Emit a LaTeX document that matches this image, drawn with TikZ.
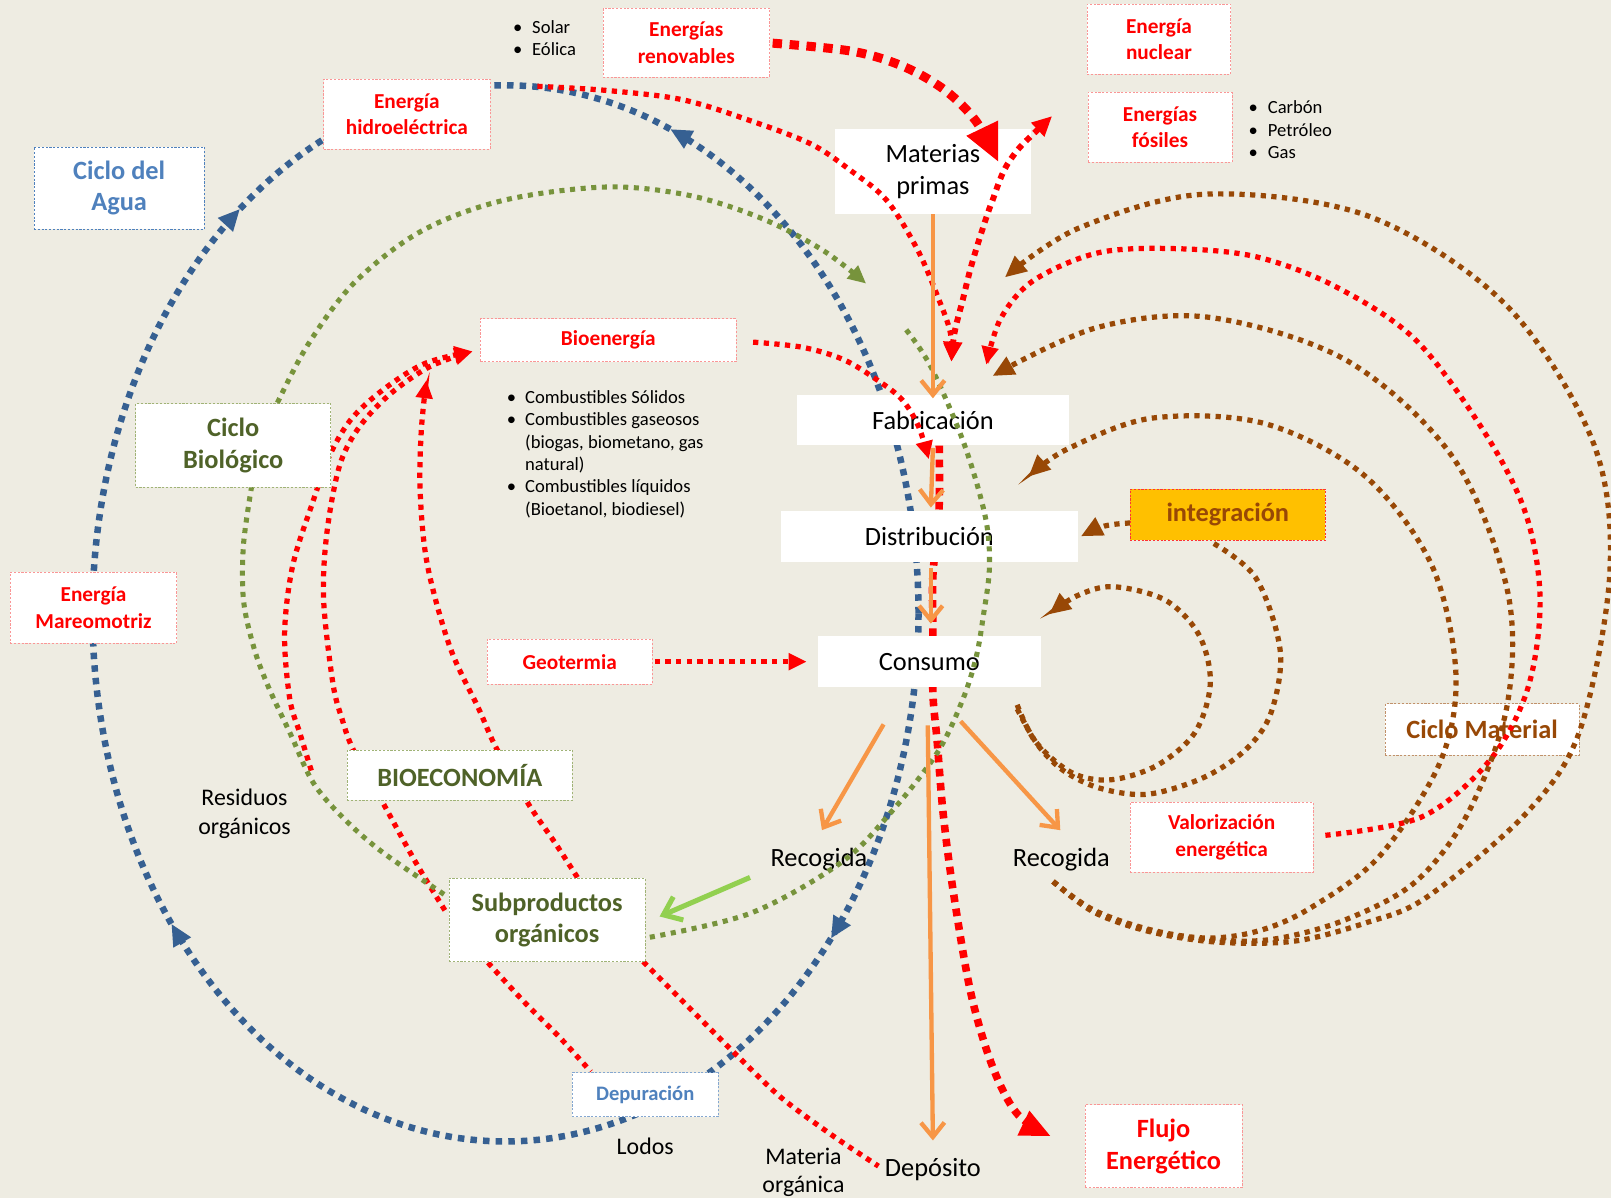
\documentclass[tikz,border=0pt]{standalone}
\usepackage{fontspec}
\setmainfont{Carlito}
\usetikzlibrary{arrows.meta}
\definecolor{paper}{RGB}{238,236,226}
\definecolor{redc}{RGB}{255,0,0}
\definecolor{pinkline}{RGB}{250,150,150}
\definecolor{blueline}{RGB}{54,96,146}
\definecolor{bluetext}{RGB}{79,129,189}
\definecolor{greenline}{RGB}{119,147,60}
\definecolor{greentext}{RGB}{79,98,40}
\definecolor{brownc}{RGB}{152,72,6}
\definecolor{orangec}{RGB}{247,150,70}
\definecolor{lightgreen}{RGB}{146,208,80}
\definecolor{goldc}{RGB}{255,192,0}
\newcommand\fsz[2]{\fontsize{#1}{#2}\selectfont}
\pgfdeclarelayer{back}
\pgfdeclarelayer{front}
\pgfsetlayers{back,main,front}
\begin{document}
\begin{tikzpicture}[x=0.02cm,y=-0.02cm,
  box/.style={fill=white, inner sep=0pt, align=center},
  chain/.style={box, font=\fsz{14.6}{17.6}},
  thinborder/.style={line width=0.4pt, dash pattern=on 1.2pt off 0.9pt},
  redlabel/.style={box, thinborder, draw=pinkline, text=redc, font=\fsz{11.8}{14.7}\bfseries},
  cyclelabel/.style={box, thinborder, font=\fsz{14.6}{17.6}\bfseries},
  plain/.style={align=center, inner sep=0pt},
  bullets/.style={inner sep=0pt, anchor=north west, font=\fsz{10.3}{12.4}},
  redthin/.style={draw=redc, line width=2.9pt, dash pattern=on 2.9pt off 3pt},
  redmid/.style={draw=redc, line width=3.3pt, dash pattern=on 3.3pt off 3.1pt},
  redthick/.style={draw=redc, line width=4.2pt, dash pattern=on 4.2pt off 3.6pt},
  redheavy/.style={draw=redc, line width=5pt, dash pattern=on 5.2pt off 4.2pt},
  greenl/.style={draw=greenline, line width=2.8pt, dash pattern=on 2.8pt off 3.1pt},
  brownl/.style={draw=brownc, line width=2.9pt, dash pattern=on 2.9pt off 3pt},
  bluel/.style={draw=blueline, line width=3.6pt, dash pattern=on 3.6pt off 3.4pt},
  orangel/.style={draw=orangec, line width=2.4pt, -{Straight Barb[length=8pt,width=13pt]}},
  tipS/.style={-{Triangle[length=10pt,width=9pt]}},
  tipM/.style={-{Triangle[length=12pt,width=10.5pt]}},
  tipL/.style={-{Triangle[length=17pt,width=14pt]}},
  tipXL/.style={-{Triangle[length=21pt,width=18pt]}},
  ell/.style={smooth, variable=\t, samples=60}
]
\useasboundingbox (0,0) rectangle (1568,1166);

% ---------- boxes ----------
\node[redlabel, minimum width=3.24cm, minimum height=1.34cm] (renov) at (668,41.5) {Energías\\renovables};
\node[redlabel, minimum width=2.8cm, minimum height=1.36cm] (nuclear) at (1128,38) {Energía\\nuclear};
\node[redlabel, minimum width=2.8cm, minimum height=1.36cm] (fosil) at (1129,124) {Energías\\fósiles};
\node[redlabel, minimum width=3.24cm, minimum height=1.36cm] (hidro) at (396,111) {Energía\\hidroeléctrica};
\node[cyclelabel, draw=bluetext, text=bluetext, minimum width=3.32cm, minimum height=1.6cm] (agua) at (116,183) {Ciclo del\\Agua};
\node[chain, minimum width=3.82cm, minimum height=1.64cm] (mat) at (908,167) {Materias\\primas};
\node[redlabel, minimum width=4.98cm, minimum height=0.84cm] (bioen) at (592,331) {Bioenergía};
\node[chain, minimum width=5.28cm, minimum height=0.98cm] (fab) at (908,409) {Fabricación};
\node[chain, minimum width=5.78cm, minimum height=1.0cm] (dist) at (904.5,522) {Distribución};
\node[box, thinborder, draw=redc!80, fill=goldc, text=brownc, font=\fsz{14.6}{17.6}\bfseries, minimum width=3.8cm, minimum height=1.0cm] (integ) at (1195,501) {integración};
\node[cyclelabel, draw=greenline!70, text=greentext, minimum width=3.8cm, minimum height=1.62cm] (biol) at (227,433.5) {Ciclo\\Biológico};
\node[redlabel, minimum width=3.24cm, minimum height=1.38cm] (mareo) at (91,591.5) {Energía\\Mareomotriz};
\node[redlabel, minimum width=3.22cm, minimum height=0.88cm] (geo) at (554.5,644) {Geotermia};
\node[chain, minimum width=4.34cm, minimum height=1.0cm] (cons) at (904.5,644) {Consumo};
\node[cyclelabel, draw=brownc!60, text=brownc, minimum width=3.78cm, minimum height=1.0cm] (cmat) at (1442.5,710) {Ciclo Material};
\node[cyclelabel, draw=greenline!70, text=greentext, minimum width=4.38cm, minimum height=0.98cm] (bioeco) at (447.5,754.5) {BIOECONOMÍA};
\node[redlabel, minimum width=3.56cm, minimum height=1.36cm] (valor) at (1189,815) {Valorización\\energética};
\node[cyclelabel, draw=greenline!70, text=greentext, minimum width=3.82cm, minimum height=1.62cm] (subp) at (532.5,895.5) {Subproductos\\orgánicos};
\node[box, thinborder, draw=bluetext!70, text=bluetext, font=\fsz{11.4}{14}\bfseries, minimum width=2.84cm, minimum height=0.86cm] (depur) at (628,1065.5) {Depuración};
\node[redlabel, font=\fsz{14.6}{17.6}\bfseries, minimum width=3.06cm, minimum height=1.62cm] (flujo) at (1132.5,1115.5) {Flujo\\Energético};

% ---------- free texts ----------
\node[plain, font=\fsz{14.6}{17.6}] (recL) at (797,837) {Recogida};
\node[plain, font=\fsz{14.6}{17.6}] (recR) at (1033,837) {Recogida};
\node[plain, font=\fsz{13.2}{15.9}] (resid) at (238,792) {Residuos\\orgánicos};
\node[plain, font=\fsz{13.2}{15.9}] (lodos) at (628,1116) {Lodos};
\node[plain, font=\fsz{13.2}{15.9}] (matorg) at (782,1141) {Materia\\orgánica};
\node[plain, font=\fsz{14.6}{17.6}] (depos) at (908,1138) {Depósito};

\node[bullets] (renlist) at (499,17) {\begin{tabular}{@{}l@{\hspace{5.5pt}}l@{}}\textbullet & Solar\\ \textbullet & Eólica\end{tabular}};
\node[bullets] (fosilist) at (1215,95) {\begin{tabular}{@{}l@{\hspace{5.5pt}}l@{}}\textbullet & Carbón\\ \textbullet & Petróleo\\ \textbullet & Gas\end{tabular}};
\node[bullets] (biolist) at (493,377) {\begin{tabular}{@{}l@{\hspace{5pt}}l@{}}\textbullet & Combustibles Sólidos\\ \textbullet & Combustibles gaseosos\\ & (biogas, biometano, gas\\ & natural)\\ \textbullet & Combustibles líquidos\\ & (Bioetanol, biodiesel)\end{tabular}};

% ---------- connectors behind the boxes ----------
\begin{pgfonlayer}{back}
\fill[paper] (0,0) rectangle (1568,1166);

% water cycle: elliptical loop through hydro power, tidal power and purification
\draw[bluel, tipM] plot[ell, domain=0:-66.5] ({492+402*cos(\t)},{597+514*sin(\t)});
\draw[bluel] plot[ell, domain=-66.5:-118] ({492+402*cos(\t)},{597+514*sin(\t)});
\draw[bluel, tipM] plot[ell, domain=0:38] ({492+402*cos(\t)},{597+514*sin(\t)});
\draw[bluel, tipM] plot[ell, domain=38:144] ({492+402*cos(\t)},{597+514*sin(\t)});
\draw[bluel, tipM] plot[ell, domain=144:230] ({492+402*cos(\t)},{597+514*sin(\t)});
\draw[bluel] plot[ell, domain=230:242] ({492+402*cos(\t)},{597+514*sin(\t)});

% energy flow down the value chain to the energy output
\coordinate (flujoTip) at (1023,1106);
\draw[redthick, tipL] plot[smooth, tension=0.55] coordinates {(914,420) (914,495) (908,560) (908,613) (908,675) (912,720) (918,792) (928,869) (945,967) (966,1038) (990,1084) (flujoTip)};

% geothermal supply
\draw[redthin, tipS] (geo.east) ++(2,0) -- ([xshift=-6pt]cons.west);

% bio-economy loops
\coordinate (bioTip) at (460,342);
\coordinate (outerEnd) at (303,750);
\draw[redthin, tipS] plot[smooth, tension=0.55] coordinates {(outerEnd) (292,714) (282,680) (277,616) (285,550) (305,487) (320,445) (341,409) (372,380) (413,354) (bioTip)};
\draw[redthin, tipS] plot[smooth, tension=0.55] coordinates {(433,886) (405,840) (373,782) (344,730) (333,700) (324,665) (315,584) (318,520) (330,455) (348,418) (378,385) (418,357) (bioTip)};
\coordinate (bioTip2) at (415,370);
\draw[redthin, tipS] plot[smooth, tension=0.55] coordinates {(562,854) (540,820) (514,782) (483,728) (466,690) (438,630) (416,550) (409,480) (410,420) (bioTip2)};
\draw[redthin] plot[smooth, tension=0.5] coordinates {(475,937) (510,975) (545,1010) (575,1043)};
\draw[redthin] plot[smooth, tension=0.5] coordinates {(626,936) (670,980) (715,1025) (760,1068) (810,1105) (855,1135)};

% biological cycle
\draw[greenl] plot[smooth, tension=0.55] coordinates {(245,473) (237,530) (237,584) (247,630) (261,668) (283,715) (305,762) (335,797) (373,830) (436,873)};

% integration feedback
\draw[brownl, tipM] plot[smooth, tension=0.6] coordinates {(1100,509) (1075,512) (1052,522)};
\draw[brownl, tipM] plot[smooth, tension=0.55] coordinates {(990,686) (1008,722) (1043,752) (1081,759) (1126,745) (1163,713) (1178,665) (1167,618) (1134,584) (1083,571) (1048,580) (1021,598)};
\draw[brownl] plot[smooth, tension=0.55] coordinates {(990,690) (1010,725) (1035,750) (1070,767) (1117,773) (1171,757) (1212,730) (1237,694) (1246,633) (1222,562) (1178,527)};
\end{pgfonlayer}

% ---------- connectors over the boxes ----------
\begin{pgfonlayer}{front}
% renewable supply to raw materials
\coordinate (renTip) at (972,158);
\draw[redheavy, tipXL] plot[smooth, tension=0.55] coordinates {(752,42) (830,50) (880,65) (920,88) (950,118) (renTip)};

% hydro power and fossil fuels into manufacturing
\coordinate (fabTip) at (926,352);
\draw[redthin, tipS] plot[smooth, tension=0.55] coordinates {(523,84) (590,88) (664,97) (729,117) (789,140) (828,166) (863,195) (893,243) (914,292) (925,324) (fabTip)};
\draw[redmid, {Triangle[length=11pt,width=10pt]}-{Triangle[length=11pt,width=10pt]}] plot[smooth, tension=0.55] coordinates {(1024,113) (983,156) (966,195) (955,227) (945,260) (937,292) (929,324) (fabTip)};

% bioenergy into manufacturing
\draw[redthin, tipS] plot[smooth, tension=0.55] coordinates {(733,333) (781,338) (821,350) (854,370) (878,389) (894,415) (904,447)};

% energy recovery loop
\draw[redthin, tipS] plot[smooth, tension=0.55] coordinates {(1290,813) (1384,795) (1450,740) (1487,670) (1499,584) (1485,500) (1445,421) (1378,331) (1300,279) (1223,250) (1144,242) (1069,246) (1006,273) (974,310) (960,355)};

% material cycle arcs starting from collection
\draw[brownl, tipM] plot[smooth, tension=0.55] coordinates {(1025,858) (1065,886) (1120,905) (1175,913) (1225,906) (1275,884) (1343,833) (1402,741) (1417,655) (1393,549) (1327,462) (1230,412) (1121,407) (1039,437) (1001,464)};
\draw[brownl, tipM] plot[smooth, tension=0.55] coordinates {(1025,858) (1065,887) (1120,906) (1180,915) (1240,914) (1310,895) (1378,858) (1429,791) (1467,686) (1467,574) (1414,445) (1311,351) (1178,309) (1067,319) (966,366)};
\draw[brownl, tipM] plot[smooth, tension=0.55] coordinates {(1025,858) (1065,888) (1120,907) (1185,917) (1260,916) (1330,898) (1389,873) (1486,791) (1538,710) (1567,555) (1550,429) (1465,296) (1331,210) (1173,189) (1050,222) (978,270)};

% biological cycle arcs
\draw[greenl, tipS] plot[smooth, tension=0.55] coordinates {(270,392) (300,335) (345,275) (410,225) (490,195) (590,182) (670,190) (740,212) (800,243) (843,276)};
\draw[greenl] plot[smooth, tension=0.55] coordinates {(882,321) (906,357) (938,431) (959,503) (963,552) (957,600) (950,640) (937,681) (912,733) (866,792) (818,840) (730,889) (subp.east |- 0,913)};

% material flow through the chain
\draw[orangel] (mat.south) -- ([yshift=-2pt]fab.north);
\draw[orangel] (908,436) -- (906,494);
\draw[orangel] (906,553) -- (906,607);
\draw[orangel] (860,705) -- (800,808);
\draw[orangel] (935,702) -- (1032,808);
\draw[orangel] (903,706) -- (908,1110);
\draw[draw=lightgreen, line width=2.8pt, -{Straight Barb[length=9pt,width=14pt]}] (730,854) -- (642,892);
\end{pgfonlayer}
\end{tikzpicture}
\end{document}
